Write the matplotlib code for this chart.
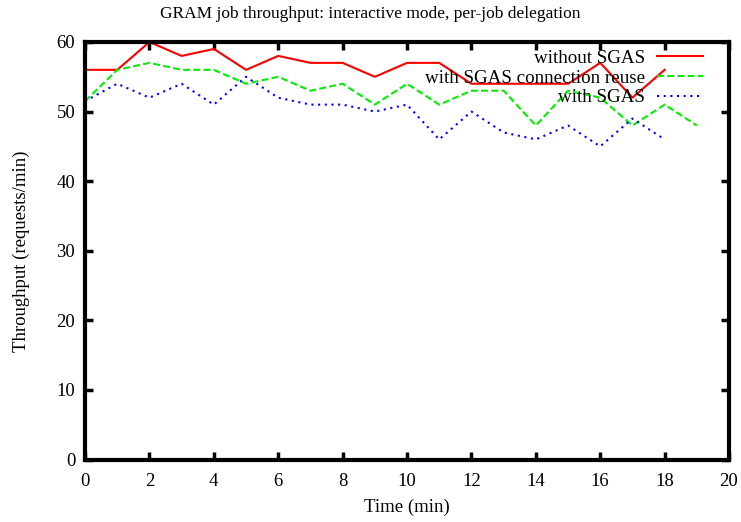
import matplotlib
matplotlib.use("Agg")
import matplotlib.pyplot as plt

plt.rcParams['font.family'] = ['Liberation Serif', 'DejaVu Serif']

# data
minutes = list(range(20))
without_sgas = [56, 56, 60, 58, 59, 56, 58, 57, 57, 55, 57, 57, 54, 54, 54, 54, 57, 52, 56]
with_reuse = [51.5, 56, 57, 56, 56, 54, 55, 53, 54, 51, 54, 51, 53, 53, 48, 53, 52, 48, 51, 48]
with_sgas = [51.5, 54, 52, 54, 51, 55, 52, 51, 51, 50, 51, 46, 50, 47, 46, 48, 45, 49, 46]

fig = plt.figure(figsize=(7.41, 5.22), dpi=100)
ax = fig.add_axes([85/741, 1 - 459.5/522, 644/741, 417.5/522])

ax.plot(minutes[:len(without_sgas)], without_sgas, color='#ff0000', lw=1.5,
        label='without SGAS')
ax.plot(minutes[:len(with_reuse)], with_reuse, color='#00ee00', lw=1.5,
        dashes=(3.3, 1.6), label='with SGAS connection reuse')
ax.plot(minutes[:len(with_sgas)], with_sgas, color='#0000ff', lw=1.5,
        dashes=(1, 2.2), label='with SGAS')

ax.set_xlim(0, 20)
ax.set_ylim(0, 60)
ax.set_xticks(range(0, 21, 2))
ax.set_yticks(range(0, 61, 10))
ax.tick_params(direction='in', length=6, width=2.5, top=True, right=True,
               labelsize=13.5)
ax.tick_params(axis='x', pad=10)
ax.tick_params(axis='y', pad=7)
for s in ax.spines.values():
    s.set_linewidth(3)

fig.text(0.5, 1 - 14/522, 'GRAM job throughput: interactive mode, per-job delegation',
         fontsize=12.5, ha='center', va='center')
ax.set_xlabel('Time (min)', fontsize=13.5, labelpad=6)
ax.set_ylabel('Throughput (requests/min)', fontsize=13.5, labelpad=19)

ax.legend(loc='upper right', bbox_to_anchor=(0.9596, 0.982), frameon=False,
          markerfirst=False, fontsize=13.7, handlelength=2.4, handletextpad=0.65,
          labelspacing=0.13, borderpad=0, borderaxespad=0)

fig.savefig('out.png', dpi=100)
